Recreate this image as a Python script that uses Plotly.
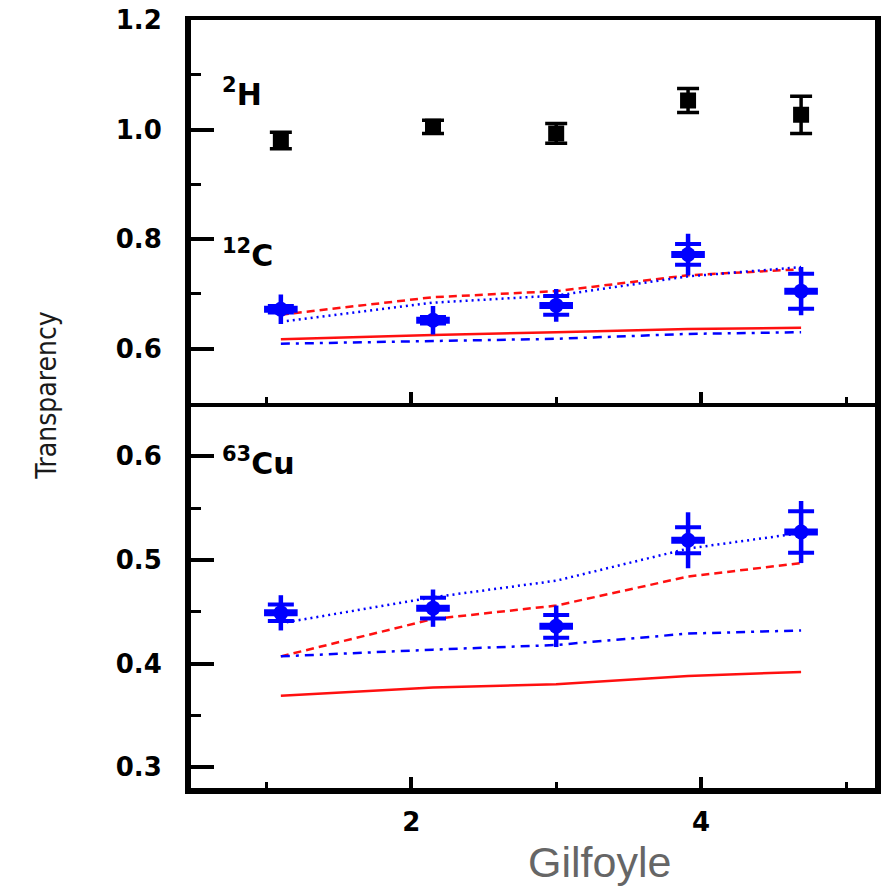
import plotly.graph_objects as go
from plotly.subplots import make_subplots

# Q^2 settings (GeV^2)
q2 = [1.10, 2.15, 3.00, 3.91, 4.69]

# Deuterium transparency
d_t = [0.980, 1.005, 0.993, 1.053, 1.027]
d_err = [0.015, 0.012, 0.018, 0.022, 0.034]

# Carbon transparency (stat / total uncertainties)
c_t = [0.672, 0.652, 0.679, 0.772, 0.705]
c_err_stat = [0.006, 0.006, 0.017, 0.019, 0.032]
c_err_tot = [0.027, 0.026, 0.030, 0.038, 0.044]

# Copper transparency (stat / total uncertainties)
cu_t = [0.449, 0.4535, 0.436, 0.519, 0.527]
cu_err_stat = [0.008, 0.010, 0.011, 0.0125, 0.020]
cu_err_tot = [0.017, 0.018, 0.020, 0.027, 0.030]

# Model curves, carbon
c_red_dash = [0.662, 0.694, 0.705, 0.734, 0.745]
c_blue_dot = [0.649, 0.684, 0.697, 0.732, 0.749]
c_red_solid = [0.617, 0.625, 0.630, 0.636, 0.638]
c_blue_dashdot = [0.609, 0.614, 0.618, 0.627, 0.630]

# Model curves, copper
cu_blue_dot = [0.439, 0.464, 0.480, 0.511, 0.526]
cu_red_dash = [0.407, 0.443, 0.456, 0.484, 0.497]
cu_blue_dashdot = [0.407, 0.4135, 0.418, 0.429, 0.432]
cu_red_solid = [0.369, 0.377, 0.380, 0.388, 0.392]

RED = "#ff1010"
BLUE = "#0000ff"

fig = make_subplots(rows=2, cols=1, shared_xaxes=True, vertical_spacing=0.0)


def model_curves(row, red_dash, blue_dot, red_solid, blue_dashdot):
    styles = [
        (red_dash, RED, "8px,5px"),
        (blue_dot, BLUE, "2px,4px"),
        (red_solid, RED, "solid"),
        (blue_dashdot, BLUE, "9px,6px,3px,6px"),
    ]
    for ys, col, dash in styles:
        fig.add_trace(go.Scatter(x=q2, y=ys, mode="lines",
                                 line=dict(color=col, width=2.5, dash=dash),
                                 showlegend=False, hoverinfo="skip"),
                      row=row, col=1)


def blue_points(row, ys, err_stat, err_tot):
    # total uncertainty: plain bar, no caps
    fig.add_trace(go.Scatter(x=q2, y=ys, mode="markers",
                             marker=dict(symbol="circle", size=15, color=BLUE),
                             error_y=dict(type="data", array=err_tot, visible=True,
                                          color=BLUE, thickness=4.5, width=0),
                             showlegend=False), row=row, col=1)
    # statistical uncertainty with caps, flattened marker body
    fig.add_trace(go.Scatter(x=q2, y=ys, mode="markers",
                             marker=dict(symbol="line-ew", size=24,
                                         line=dict(color=BLUE, width=7)),
                             error_y=dict(type="data", array=err_stat, visible=True,
                                          color=BLUE, thickness=4, width=13),
                             showlegend=False), row=row, col=1)


# top panel: deuterium and carbon
fig.add_trace(go.Scatter(x=q2, y=d_t, mode="markers",
                         marker=dict(symbol="square", size=16, color="black"),
                         error_y=dict(type="data", array=d_err, visible=True,
                                      color="black", thickness=3.5, width=11),
                         showlegend=False), row=1, col=1)
model_curves(1, c_red_dash, c_blue_dot, c_red_solid, c_blue_dashdot)
blue_points(1, c_t, c_err_stat, c_err_tot)

# bottom panel: copper
model_curves(2, cu_red_dash, cu_blue_dot, cu_red_solid, cu_blue_dashdot)
blue_points(2, cu_t, cu_err_stat, cu_err_tot)

tick_font = dict(family="DejaVu Sans", size=26, color="black", weight="bold")

xcommon = dict(range=[0.48, 5.2], tick0=0, dtick=2, ticks="inside", ticklen=11,
               tickwidth=3.5, tickcolor="black", showgrid=False, zeroline=False,
               showline=True, linecolor="black",
               minor=dict(ticks="inside", dtick=1, ticklen=6, tickwidth=3,
                          tickcolor="black", showgrid=False))
fig.update_xaxes(**xcommon)
fig.update_xaxes(row=1, col=1, showticklabels=False, linewidth=4, mirror=True)
fig.update_xaxes(row=2, col=1, linewidth=6, tickfont=tick_font, ticklabelstandoff=6)

ycommon = dict(ticks="inside", ticklen=23, tickwidth=3.5, tickcolor="black",
               showgrid=False, zeroline=False, showline=True, linecolor="black",
               linewidth=6, mirror=True, tickfont=tick_font, ticklabelstandoff=18)
fig.update_yaxes(**ycommon)
fig.update_yaxes(row=1, col=1, range=[0.5, 1.2], tick0=0, dtick=0.2, tickformat=".1f",
                 minor=dict(ticks="inside", dtick=0.1, ticklen=10, tickwidth=3,
                            tickcolor="black", showgrid=False))
fig.update_yaxes(row=2, col=1, range=[0.28, 0.651], tick0=0, dtick=0.1, tickformat=".1f",
                 minor=dict(ticks="inside", dtick=0.05, ticklen=10, tickwidth=3,
                            tickcolor="black", showgrid=False))

fig.update_layout(yaxis=dict(domain=[0.5007, 1.0]), yaxis2=dict(domain=[0.0, 0.5007]))

label_font = dict(family="DejaVu Sans", size=30, color="black", weight="bold")
for txt, y in [("<sup>2</sup>H", 0.906), ("<sup>12</sup>C", 0.696), ("<sup>63</sup>Cu", 0.425)]:
    fig.add_annotation(text=txt, xref="paper", yref="paper", x=0.043, y=y,
                       xanchor="left", yanchor="middle", showarrow=False, font=label_font)

fig.add_annotation(text="Transparency", xref="paper", yref="paper", x=-0.2116, y=0.511,
                   textangle=-90, showarrow=False, xanchor="center", yanchor="middle",
                   font=dict(family="Liberation Sans Narrow, DejaVu Sans Condensed, Liberation Sans",
                             size=28, color="#1a1a1a"))
fig.add_annotation(text="Gilfoyle", xref="paper", yref="paper", x=0.597, y=-0.096,
                   showarrow=False, xanchor="center", yanchor="middle",
                   font=dict(family="Liberation Sans", size=43, color="#666666"))

fig.update_layout(width=886, height=887, margin=dict(l=191, r=5, t=19, b=99),
                  plot_bgcolor="white", paper_bgcolor="white")

fig.write_html("out.html")
